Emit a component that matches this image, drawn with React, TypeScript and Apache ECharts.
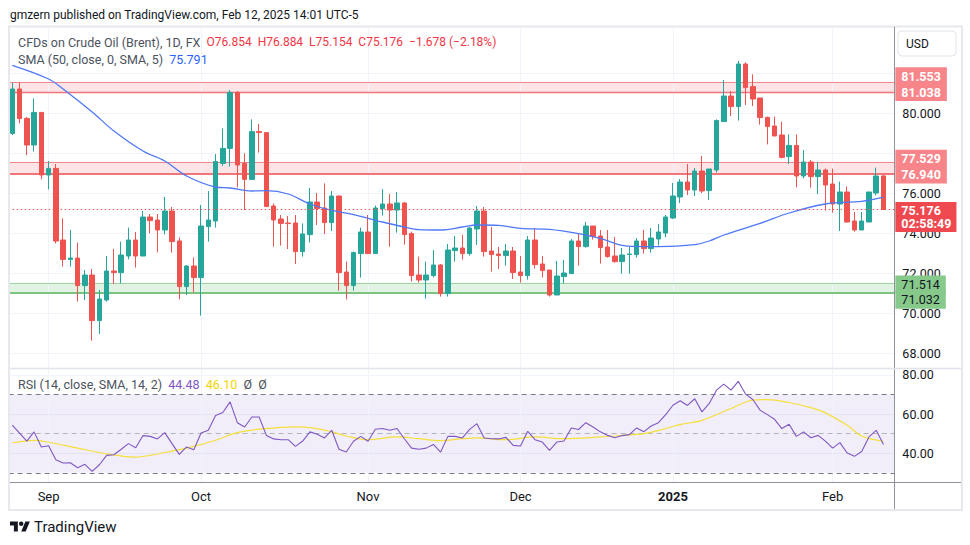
import React, { useEffect, useRef } from 'react';
import * as echarts from 'echarts';

// ---------- data ----------
const augDays = [26, 27, 28, 29, 30];
const sepDays = [2, 3, 4, 5, 6, 9, 10, 11, 12, 13, 16, 17, 18, 19, 20, 23, 24, 25, 26, 27, 30];
const octDays = [1, 2, 3, 4, 7, 8, 9, 10, 11, 14, 15, 16, 17, 18, 21, 22, 23, 24, 25, 28, 29, 30, 31];
const novDays = [1, 4, 5, 6, 7, 8, 11, 12, 13, 14, 15, 18, 19, 20, 21, 22, 25, 26, 27, 28, 29];
const decDays = [2, 3, 4, 5, 6, 9, 10, 11, 12, 13, 16, 17, 18, 19, 20, 23, 24, 26, 27, 30, 31];
const janDays = [2, 3, 6, 7, 8, 9, 10, 13, 14, 15, 16, 17, 20, 21, 22, 23, 24, 27, 28, 29, 30, 31];
const febDays = [3, 4, 5, 6, 7, 10, 11, 12];
const monthYears = [2024, 2024, 2024, 2024, 2024, 2025, 2025];
const monthNums = [8, 9, 10, 11, 12, 1, 2];
const monthDays = [augDays, sepDays, octDays, novDays, decDays, janDays, febDays];
const monthTickLabels = ['', 'Sep', 'Oct', 'Nov', 'Dec', '2025', 'Feb'];

// [open, close, low, high]
const candles = [
  [78.98, 81.2, 78.9, 81.52], [81.2, 79.72, 79.48, 81.52], [79.73, 78.4, 77.9, 79.8], [78.4, 80.03, 78.07, 80.73],
  [80.03, 76.9, 76.68, 80.05], [76.9, 77.23, 76.18, 77.6], [77.23, 73.6, 73.48, 77.45], [73.65, 72.68, 72.32, 74.73],
  [72.68, 72.75, 72.32, 74.15], [72.75, 71.37, 70.57, 73.52], [71.37, 71.9, 70.65, 72.15], [71.9, 69.62, 68.62, 72.2],
  [69.62, 70.7, 68.95, 71.15], [70.65, 72.1, 70.57, 72.85], [72.1, 72.02, 71.45, 73.2], [72.02, 72.9, 71.48, 73.57],
  [72.85, 73.65, 72.68, 74.27], [73.65, 72.85, 72.27, 74.05], [72.85, 74.8, 72.85, 75.1], [74.8, 74.62, 73.98, 74.95],
  [74.65, 74.15, 73.03, 74.95], [74.15, 75.1, 73.93, 75.8], [75.1, 73.57, 73.02, 75.3], [73.6, 71.32, 70.68, 73.77],
  [71.32, 72.35, 70.9, 72.4], [72.35, 71.77, 71.03, 72.77], [71.77, 74.35, 69.87, 75.4], [74.32, 74.65, 73.57, 76.1],
  [74.6, 77.57, 74.27, 77.95], [77.48, 78.23, 77.35, 79.23], [78.23, 81.03, 77.32, 81.15], [81.03, 77.4, 76.28, 81.1],
  [77.48, 76.68, 75.15, 77.98], [76.68, 79.07, 76.68, 79.68], [79.07, 79.02, 78.02, 79.45], [79.02, 75.32, 75.3, 79.05],
  [75.35, 74.65, 73.32, 75.48], [74.7, 74.48, 73.37, 74.9], [74.5, 74.47, 73.2, 74.85], [74.5, 73.07, 72.45, 74.9],
  [73.07, 73.95, 72.82, 74.48], [73.92, 75.55, 73.52, 76.25], [75.55, 75.22, 74.4, 76.0], [75.25, 74.52, 73.95, 76.48],
  [74.52, 75.85, 74.1, 76.1], [75.85, 72.02, 71.12, 75.87], [72.05, 71.37, 70.68, 72.57], [71.37, 73.02, 71.12, 73.07],
  [72.97, 74.05, 71.77, 74.27], [74.05, 72.97, 72.95, 74.9], [72.97, 75.25, 72.95, 75.37], [75.22, 75.45, 74.87, 76.2],
  [75.45, 75.15, 73.32, 75.95], [75.15, 75.5, 74.02, 76.05], [75.5, 73.92, 73.42, 75.55], [73.97, 71.87, 71.57, 74.07],
  [71.9, 71.65, 71.52, 72.82], [71.65, 71.9, 70.72, 72.57], [71.87, 72.4, 71.78, 73.15], [72.4, 70.97, 70.82, 72.45],
  [70.97, 73.15, 70.82, 73.45], [73.12, 73.25, 72.57, 73.85], [73.25, 72.97, 72.67, 73.9], [72.97, 74.25, 72.87, 74.3],
  [74.2, 75.1, 73.4, 75.35], [75.1, 73.07, 72.82, 75.3], [73.1, 72.92, 72.07, 74.3], [72.95, 72.87, 72.2, 73.3],
  [72.87, 73.1, 72.37, 73.45], [73.1, 72.02, 71.7, 73.3], [72.05, 71.87, 71.52, 72.85], [71.87, 73.65, 71.67, 73.85],
  [73.65, 72.42, 72.22, 74.25], [72.45, 72.12, 71.77, 72.85], [72.15, 70.9, 70.82, 72.15], [70.9, 71.85, 70.9, 72.6],
  [71.82, 72.0, 71.47, 72.65], [71.97, 73.6, 71.97, 73.7], [73.6, 73.32, 72.37, 73.95], [73.32, 74.35, 73.27, 74.55],
  [74.35, 73.82, 73.67, 74.35], [73.85, 73.27, 72.47, 74.15], [73.3, 72.82, 72.77, 74.15], [72.85, 72.57, 72.52, 73.8],
  [72.57, 72.9, 71.97, 73.25], [72.92, 72.95, 71.97, 73.3], [72.92, 73.6, 72.77, 73.75], [73.6, 73.22, 72.97, 74.15],
  [73.22, 73.75, 73.02, 74.25], [73.7, 74.05, 73.37, 74.45], [74.0, 74.8, 73.8, 74.9], [74.75, 75.85, 74.7, 76.5],
  [75.8, 76.55, 75.5, 76.7], [76.55, 76.15, 75.9, 77.45], [76.15, 77.1, 75.85, 77.25], [77.1, 76.1, 76.0, 77.85],
  [76.12, 77.2, 75.65, 77.2], [77.15, 79.62, 77.02, 79.68], [79.57, 80.85, 79.57, 81.65], [80.85, 80.32, 79.85, 81.1],
  [80.32, 82.45, 79.62, 82.6], [82.45, 81.27, 80.4, 82.53], [81.32, 80.7, 80.35, 81.93], [80.75, 79.77, 79.42, 80.75],
  [79.78, 79.32, 78.43, 79.82], [79.35, 78.85, 78.85, 79.82], [78.9, 77.78, 77.73, 79.57], [77.82, 78.38, 77.45, 78.93],
  [78.38, 76.85, 76.28, 78.93], [76.85, 77.55, 76.73, 78.15], [77.55, 76.82, 76.27, 77.65], [76.82, 77.15, 75.95, 77.55],
  [77.15, 76.4, 75.12, 77.22], [76.45, 75.45, 75.02, 77.22], [75.45, 76.05, 74.1, 76.57], [76.05, 74.55, 74.52, 76.32],
  [74.6, 74.15, 74.07, 75.05], [74.15, 74.6, 74.15, 75.05], [74.55, 76.05, 74.55, 76.05], [76.0, 76.85, 75.88, 77.27],
  [76.854, 75.176, 75.154, 76.884],
];

// SMA(50) read at a subset of bars: [barIndex, value]
const smaPoints = [
  [0, 82.38], [5, 81.7], [7, 81.2], [11, 80.05], [14, 79.1], [18, 78.1], [21, 77.6], [24, 76.85], [28, 76.3],
  [30, 76.25], [33, 76.1], [35, 76.12], [38, 75.95], [41, 75.45], [44, 75.13], [47, 74.92], [51, 74.55],
  [54, 74.3], [56, 74.17], [59, 74.15], [62, 74.3], [64, 74.4], [67, 74.38], [70, 74.23], [74, 74.18],
  [78, 73.97], [81, 73.73], [84, 73.38], [86, 73.33], [89, 73.32], [94, 73.42], [96, 73.6], [98, 73.9],
  [103, 74.48], [107, 75.0], [112, 75.45], [117, 75.58], [120, 75.791],
];

const rsiValues = [
  54.3, 50.3, 46.2, 50.9, 43.2, 43.8, 36.7, 35.0, 35.1, 32.6, 34.3, 30.7, 34.1, 38.9, 39.2, 42.0, 44.9, 42.8,
  49.0, 48.6, 47.3, 50.5, 44.9, 39.4, 43.2, 41.8, 50.3, 51.7, 59.2, 60.8, 66.2, 55.6, 53.4, 58.5, 58.5, 49.1,
  47.3, 46.9, 46.9, 43.5, 46.2, 50.9, 49.7, 47.8, 51.7, 42.0, 40.6, 46.1, 48.6, 46.1, 52.2, 52.6, 51.7, 52.6,
  47.4, 42.6, 42.0, 42.6, 44.5, 40.6, 48.6, 48.6, 47.8, 52.2, 55.1, 47.8, 47.4, 47.3, 48.1, 44.0, 43.7, 51.2,
  46.9, 45.7, 41.5, 45.7, 46.2, 52.9, 52.1, 55.6, 53.4, 50.9, 49.1, 47.9, 49.0, 49.5, 52.9, 51.0, 53.9, 55.6,
  59.7, 64.5, 66.8, 64.4, 67.8, 61.1, 65.4, 72.2, 75.3, 72.2, 76.7, 70.2, 67.4, 62.0, 59.7, 57.3, 52.6, 54.8,
  48.6, 50.9, 47.9, 49.1, 46.2, 42.6, 45.4, 40.1, 38.4, 40.9, 48.3, 51.7, 44.48,
];

// RSI-based SMA read at a subset of bars: [barIndex, value]
const rsiSmaPoints = [
  [0, 45.2], [3, 46.6], [5, 45.6], [9, 42.6], [13, 39.7], [17, 38.0], [19, 38.9], [22, 41.1], [25, 43.5],
  [28, 46.6], [31, 50.5], [35, 52.6], [39, 53.4], [41, 53.1], [44, 50.9], [46, 48.8], [49, 46.9], [53, 48.3],
  [56, 47.4], [59, 46.4], [62, 47.4], [64, 47.8], [68, 46.9], [72, 48.3], [76, 47.4], [81, 48.3], [84, 49.1],
  [87, 50.0], [90, 52.6], [92, 54.6], [95, 56.8], [99, 62.8], [102, 67.1], [104, 67.4], [107, 65.9],
  [110, 63.3], [112, 60.6], [115, 54.3], [117, 48.8], [120, 46.1],
];

const resistanceZones = [[81.038, 81.553], [76.94, 77.529]];
const supportZones = [[71.032, 71.514]];
const lastPrice = 75.176;
const countdown = '02:58:49';
const priceGridTicks = [68, 70, 72, 74, 76, 78, 80, 82];
const priceLabelTicks = [68, 70, 72, 74, 76, 80];
const rsiTicks = [40, 60, 80];
const rsiBand = [30, 70];
const rsiMid = 50;

const headerText = 'gmzern published on TradingView.com, Feb 12, 2025 14:01 UTC-5';
const symbolTitle = 'CFDs on Crude Oil (Brent), 1D, FX';
const ohlcText = 'O76.854  H76.884  L75.154  C75.176  \u22121.678 (\u22122.18%)';
const smaTitle = 'SMA (50, close, 0, SMA, 5)';
const smaLast = '75.791';
const rsiTitle = 'RSI (14, close, SMA, 14, 2)';
const rsiLast = '44.48';
const rsiSmaLast = '46.10';

// ---------- derived ----------
const pad = (n: number) => String(n).padStart(2, '0');
const dates: string[] = [];
const monthStartLabel: Record<string, string> = {};
monthDays.forEach((days, m) => {
  days.forEach((d, k) => {
    const s = `${monthYears[m]}-${pad(monthNums[m])}-${pad(d)}`;
    dates.push(s);
    if (k === 0 && monthTickLabels[m]) monthStartLabel[s] = monthTickLabels[m];
  });
});
const categories = [...dates, ' '];
const monthStarts = Object.keys(monthStartLabel);

const FONT = 'Roboto, "Noto Sans", sans-serif';
const TEXT = '#131722';
const GRIDC = '#f0f3fa';
const UP = '#26a69a';
const DOWN = '#ef5350';

const GL = 8.67;
const GW = 885.7;

const badge = (text: string, bg: string, fg: string, dy: number, bold = true) => ({
  show: true,
  position: 'end',
  distance: 1,
  formatter: text,
  backgroundColor: bg,
  color: fg,
  fontSize: 12.5,
  fontWeight: bold ? 'bold' : 'normal',
  fontFamily: FONT,
  padding: [2, 6, 2, 6],
  lineHeight: 13.5,
  offset: [0, dy],
});

function buildOption(): any {
  const xAxisFor = (gridIndex: number) => ({
    type: 'category',
    gridIndex,
    data: categories,
    boundaryGap: true,
    axisLine: { show: false },
    axisTick: { show: false },
    splitLine: { show: false },
    axisLabel: {
      show: gridIndex === 1,
      interval: (_i: number, v: string) => !!monthStartLabel[v],
      formatter: (v: string) => (monthStartLabel[v] === '2025' ? '{y|2025}' : monthStartLabel[v] || ''),
      color: TEXT,
      fontSize: 13,
      fontFamily: FONT,
      margin: 8,
      rich: { y: { fontWeight: 'bold', fontSize: 13, color: TEXT, fontFamily: FONT } },
    },
  });

  const vLines = (xi: number, yi: number) => ({
    type: 'line',
    xAxisIndex: xi,
    yAxisIndex: yi,
    data: [],
    silent: true,
    z: 1,
    markLine: {
      z: 1,
      silent: true,
      symbol: ['none', 'none'],
      label: { show: false },
      lineStyle: { color: GRIDC, width: 1, type: 'solid' },
      data: monthStarts.map((d) => ({ xAxis: d })),
    },
  });

  const zoneLines: any[] = [];
  resistanceZones.forEach(([lo, hi], k) => {
    zoneLines.push({ yAxis: hi, lineStyle: { color: '#f28589', width: 1.2, type: 'solid' }, label: badge(hi.toFixed(3), '#f7858a', '#ffffff', k === 0 ? -6 : -4) });
    zoneLines.push({ yAxis: lo, lineStyle: { color: '#f0767c', width: k === 0 ? 1.3 : 2, type: 'solid' }, label: badge(lo.toFixed(3), '#f7858a', '#ffffff', k === 0 ? 0 : 0.5) });
  });
  supportZones.forEach(([lo, hi]) => {
    zoneLines.push({ yAxis: hi, lineStyle: { color: '#9fd3a2', width: 1.2, type: 'solid' }, label: badge(hi.toFixed(3), '#86c98a', TEXT, 1.5, false) });
    zoneLines.push({ yAxis: lo, lineStyle: { color: '#7cc480', width: 2, type: 'solid' }, label: badge(lo.toFixed(3), '#86c98a', TEXT, 7.5, false) });
  });
  const zoneAreas: any[] = [
    ...resistanceZones.map(([lo, hi]) => [{ yAxis: lo, itemStyle: { color: 'rgba(242,54,69,0.13)' } }, { yAxis: hi }]),
    ...supportZones.map(([lo, hi]) => [{ yAxis: lo, itemStyle: { color: 'rgba(76,175,80,0.16)' } }, { yAxis: hi }]),
  ];

  return {
    animation: false,
    backgroundColor: '#ffffff',
    textStyle: { fontFamily: FONT },
    grid: [
      { left: GL, top: 28, width: GW, height: 340, outerBoundsMode: 'none' },
      { left: GL, top: 369, width: GW, height: 113, outerBoundsMode: 'none' },
    ],
    xAxis: [xAxisFor(0), xAxisFor(1)],
    yAxis: [
      {
        type: 'value',
        gridIndex: 0,
        position: 'right',
        min: 67.25,
        max: 84.25,
        axisLine: { show: false },
        axisTick: { show: false, customValues: priceGridTicks },
        axisLabel: {
          customValues: priceLabelTicks,
          formatter: (v: number) => v.toFixed(3),
          color: TEXT,
          fontSize: 12.5,
          fontFamily: FONT,
          margin: 8,
        },
        splitLine: { show: true, lineStyle: { color: GRIDC, width: 1 } },
      },
      {
        type: 'value',
        gridIndex: 1,
        position: 'right',
        min: 25.3,
        max: 83,
        axisLine: { show: false },
        axisTick: { show: false, customValues: rsiTicks },
        axisLabel: {
          customValues: rsiTicks,
          formatter: (v: number) => v.toFixed(2),
          color: TEXT,
          fontSize: 12.5,
          fontFamily: FONT,
          margin: 8,
        },
        splitLine: { show: true, lineStyle: { color: GRIDC, width: 1 } },
      },
    ],
    series: [
      vLines(0, 0),
      vLines(1, 1),
      {
        type: 'line',
        name: 'zones',
        xAxisIndex: 0,
        yAxisIndex: 0,
        data: [],
        silent: true,
        clip: false,
        z: 1,
        markArea: { z: 1, silent: true, data: zoneAreas },
        markLine: { z: 1, silent: true, symbol: ['none', 'none'], data: zoneLines },
      },
      {
        type: 'candlestick',
        name: 'Brent',
        xAxisIndex: 0,
        yAxisIndex: 0,
        data: candles,
        barWidth: 5,
        clip: false,
        z: 2,
        itemStyle: { color: UP, color0: DOWN, borderColor: UP, borderColor0: DOWN, borderWidth: 1 },
      },
      {
        type: 'line',
        name: 'SMA 50',
        xAxisIndex: 0,
        yAxisIndex: 0,
        data: smaPoints,
        smooth: 0.35,
        showSymbol: false,
        connectNulls: true,
        z: 3,
        lineStyle: { color: '#4f78f6', width: 1.3 },
      },
      {
        type: 'line',
        name: 'last',
        xAxisIndex: 0,
        yAxisIndex: 0,
        data: [],
        silent: true,
        clip: false,
        z: 4,
        markLine: {
          z: 5,
          silent: true,
          symbol: ['none', 'none'],
          data: [
            {
              yAxis: lastPrice,
              lineStyle: { color: '#f05350', width: 1, type: [1.5, 2.5] },
              label: { ...badge(`${lastPrice.toFixed(3)}\n${countdown}`, '#f0484f', '#ffffff', 7.5), padding: [1, 5, 2, 6] },
            },
          ],
        },
      },
      {
        type: 'line',
        name: 'rsiBand',
        xAxisIndex: 1,
        yAxisIndex: 1,
        data: [],
        silent: true,
        z: 1,
        markArea: {
          z: 1,
          silent: true,
          data: [[{ yAxis: rsiBand[0], itemStyle: { color: 'rgba(126,87,194,0.1)' } }, { yAxis: rsiBand[1] }]],
        },
        markLine: {
          z: 1,
          silent: true,
          symbol: ['none', 'none'],
          label: { show: false },
          data: [
            { yAxis: rsiBand[1], lineStyle: { color: '#787b86', width: 1, type: [5, 4] } },
            { yAxis: rsiMid, lineStyle: { color: '#b2b5be', width: 1, type: [5, 4] } },
            { yAxis: rsiBand[0], lineStyle: { color: '#787b86', width: 1, type: [5, 4] } },
          ],
        },
      },
      {
        type: 'line',
        name: 'RSI',
        xAxisIndex: 1,
        yAxisIndex: 1,
        data: rsiValues,
        showSymbol: false,
        z: 3,
        lineStyle: { color: '#7e57c2', width: 1.1 },
      },
      {
        type: 'line',
        name: 'RSI SMA',
        xAxisIndex: 1,
        yAxisIndex: 1,
        data: rsiSmaPoints,
        smooth: 0.35,
        showSymbol: false,
        z: 2,
        lineStyle: { color: '#f5df3a', width: 1.2 },
      },
    ],
    graphic: [
      { type: 'rect', z: 50, silent: true, shape: { x: 9, y: 26.5, width: 953, height: 483.5 }, style: { fill: 'none', stroke: '#e6e8ee', lineWidth: 2 } },
      { type: 'line', z: 50, silent: true, shape: { x1: 894.5, y1: 27, x2: 894.5, y2: 509 }, style: { stroke: '#8f929b', lineWidth: 1 } },
      { type: 'line', z: 50, silent: true, shape: { x1: 10, y1: 368.5, x2: 961, y2: 368.5 }, style: { stroke: '#e0e3eb', lineWidth: 1.5 } },
      { type: 'line', z: 50, silent: true, shape: { x1: 10, y1: 482.5, x2: 961, y2: 482.5 }, style: { stroke: '#8f929b', lineWidth: 1 } },
      { type: 'rect', z: 50, silent: true, shape: { x: 898, y: 31, width: 58, height: 25, r: 4 }, style: { fill: '#ffffff', stroke: '#e0e3eb', lineWidth: 1 } },
      { type: 'text', z: 51, silent: true, x: 906, y: 44, style: { text: 'USD', fill: TEXT, fontSize: 12, fontFamily: FONT, verticalAlign: 'middle' } },
      { type: 'text', z: 51, silent: true, x: 10, y: 14.5, style: { text: headerText, fill: TEXT, fontSize: 12, fontFamily: FONT, verticalAlign: 'middle' } },
      {
        type: 'text', z: 51, silent: true, x: 18, y: 42,
        style: {
          text: `{a|${symbolTitle}}  {r|${ohlcText}}`,
          fontSize: 12.5, fontFamily: FONT, verticalAlign: 'middle', fill: '#4c525e',
          rich: { a: { fill: '#4c525e', fontSize: 12.5, fontFamily: FONT }, r: { fill: '#f23645', fontSize: 12, fontFamily: FONT } },
        },
      },
      {
        type: 'text', z: 51, silent: true, x: 18, y: 59,
        style: {
          text: `{a|${smaTitle}}  {b|${smaLast}}`,
          fontSize: 12.5, fontFamily: FONT, verticalAlign: 'middle', fill: '#4c525e',
          rich: { a: { fill: '#4c525e', fontSize: 12.5, fontFamily: FONT }, b: { fill: '#2962ff', fontSize: 12.5, fontFamily: FONT } },
        },
      },
      {
        type: 'text', z: 51, silent: true, x: 18, y: 384,
        style: {
          text: `{a|${rsiTitle}}  {p|${rsiLast}}  {y|${rsiSmaLast}}  {a|\u00d8}  {a|\u00d8}`,
          fontSize: 12.5, fontFamily: FONT, verticalAlign: 'middle', fill: '#4c525e',
          rich: {
            a: { fill: '#4c525e', fontSize: 12.5, fontFamily: FONT },
            p: { fill: '#7e57c2', fontSize: 12.5, fontFamily: FONT },
            y: { fill: '#f0d500', fontSize: 12.5, fontFamily: FONT },
          },
        },
      },
      { type: 'tvlogo', z: 51, silent: true, x: 10, y: 519.3, scaleX: 0.56, scaleY: 0.56, style: { fill: TEXT } },
      { type: 'text', z: 51, silent: true, x: 34, y: 527, style: { text: 'TradingView', fill: TEXT, fontSize: 15, fontFamily: FONT, verticalAlign: 'middle' } },
    ],
  };
}

let registered = false;
function registerLogo() {
  if (registered) return;
  registered = true;
  const d = 'M14 22H7V11H0V4h14v18zM28 22h-8l7.5-18h8L28 22zM16 8a4 4 0 1 0 8 0a4 4 0 1 0 -8 0z';
  echarts.graphic.registerShape('tvlogo', echarts.graphic.extendPath(d, {}));
}

export default function App() {
  const ref = useRef<HTMLDivElement>(null);
  useEffect(() => {
    if (!ref.current) return;
    registerLogo();
    const chart = echarts.init(ref.current, undefined, { renderer: 'svg' });
    chart.setOption(buildOption());
    return () => chart.dispose();
  }, []);
  return (
    <div
      ref={ref}
      style={{ position: 'fixed', left: 0, top: 0, width: 970, height: 545, background: '#fff' }}
    />
  );
}
